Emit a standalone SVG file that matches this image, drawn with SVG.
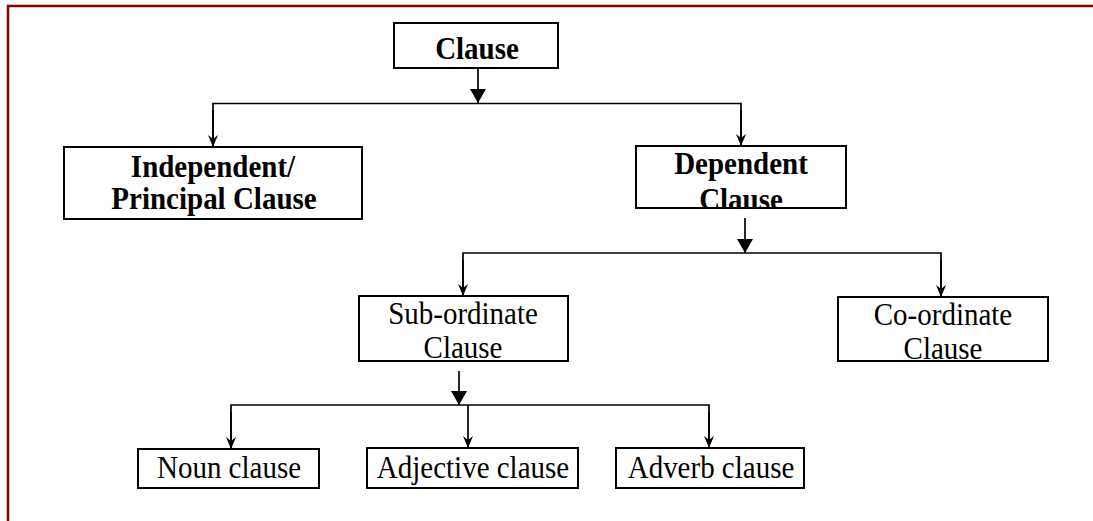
<svg xmlns="http://www.w3.org/2000/svg" width="1093" height="521" viewBox="0 0 1093 521">
<style>
.box{fill:#fff;stroke:#000;stroke-width:2}
.b{font-family:"Liberation Serif","Times New Roman",serif;font-weight:bold;font-size:29px;text-anchor:middle;fill:#000}
.r{font-family:"Liberation Serif","Times New Roman",serif;font-size:29px;text-anchor:middle;fill:#000}
.ln{fill:none;stroke:#000;stroke-width:1.7}
.frame{stroke:#8B0000;stroke-width:2.5;fill:none}
</style>
<defs>
<marker id="big" viewBox="0 0 14 16" refX="14" refY="8" markerWidth="14" markerHeight="16" markerUnits="userSpaceOnUse" orient="auto">
<path d="M0,0 L14,8 L0,16 z" fill="#000"/>
</marker>
<marker id="small" viewBox="0 0 12 10" refX="12" refY="5" markerWidth="12" markerHeight="10" markerUnits="userSpaceOnUse" orient="auto">
<path d="M0,0 L12,5 L0,10 L4,5 z" fill="#000"/>
</marker>
<clipPath id="clipDep"><rect x="636" y="146" width="210" height="62"/></clipPath>
</defs>
<rect width="1093" height="521" fill="#fff"/>
<g id="frame">
<line class="frame" x1="7" y1="6" x2="1093" y2="6"/>
<line class="frame" x1="8" y1="5" x2="8" y2="521"/>
</g>
<g id="connectors">
<line class="ln" x1="478" y1="68" x2="478" y2="103" marker-end="url(#big)"/>
<polyline class="ln" points="213,147 213,103.5 741,103.5 741,146"/>
<line class="ln" x1="213" y1="110" x2="213" y2="147" marker-end="url(#small)"/>
<line class="ln" x1="741" y1="110" x2="741" y2="146" marker-end="url(#small)"/>
<line class="ln" x1="745" y1="218" x2="745" y2="253" marker-end="url(#big)"/>
<polyline class="ln" points="463,296 463,253 941,253 941,297"/>
<line class="ln" x1="463" y1="260" x2="463" y2="296" marker-end="url(#small)"/>
<line class="ln" x1="941" y1="260" x2="941" y2="297" marker-end="url(#small)"/>
<line class="ln" x1="459" y1="371" x2="459" y2="405" marker-end="url(#big)"/>
<polyline class="ln" points="231,449 231,405 709,405 709,448"/>
<line class="ln" x1="231" y1="412" x2="231" y2="449" marker-end="url(#small)"/>
<line class="ln" x1="468" y1="405" x2="468" y2="448" marker-end="url(#small)"/>
<line class="ln" x1="709" y1="412" x2="709" y2="448" marker-end="url(#small)"/>
</g>
<g id="clause">
<rect class="box" x="394" y="23" width="164" height="45"/>
<text class="b" transform="matrix(1,0,0,1.1,477,59)">Clause</text>
</g>
<g id="independent">
<rect class="box" x="64" y="147" width="298" height="72"/>
<text class="b" transform="matrix(1,0,0,1.1,213,177)">Independent/</text>
<text class="b" transform="matrix(1,0,0,1.1,214,209)">Principal Clause</text>
</g>
<g id="dependent">
<rect class="box" x="636" y="146" width="210" height="62"/>
<g clip-path="url(#clipDep)">
<text class="b" transform="matrix(1,0,0,1.1,741,174)">Dependent</text>
<text class="b" transform="matrix(1,0,0,1.1,741,210)">Clause</text>
</g>
<rect x="636" y="146" width="210" height="62" fill="none" stroke="#000" stroke-width="2"/>
</g>
<g id="subordinate">
<rect class="box" x="359" y="296" width="209" height="65"/>
<text class="r" transform="matrix(1,0,0,1.1,463,324)">Sub-ordinate</text>
<text class="r" transform="matrix(1,0,0,1.1,463,358)">Clause</text>
</g>
<g id="coordinate">
<rect class="box" x="838" y="297" width="210" height="64"/>
<text class="r" transform="matrix(1,0,0,1.1,943,325)">Co-ordinate</text>
<text class="r" transform="matrix(1,0,0,1.1,943,359)">Clause</text>
</g>
<g id="noun">
<rect class="box" x="138" y="449" width="181" height="39"/>
<text class="r" transform="matrix(1,0,0,1.1,229,478)">Noun clause</text>
</g>
<g id="adjective">
<rect class="box" x="367" y="448" width="211" height="40"/>
<text class="r" transform="matrix(1,0,0,1.1,473,478)">Adjective clause</text>
</g>
<g id="adverb">
<rect class="box" x="616" y="448" width="188" height="40"/>
<text class="r" transform="matrix(1,0,0,1.1,711,478)">Adverb clause</text>
</g>
</svg>
